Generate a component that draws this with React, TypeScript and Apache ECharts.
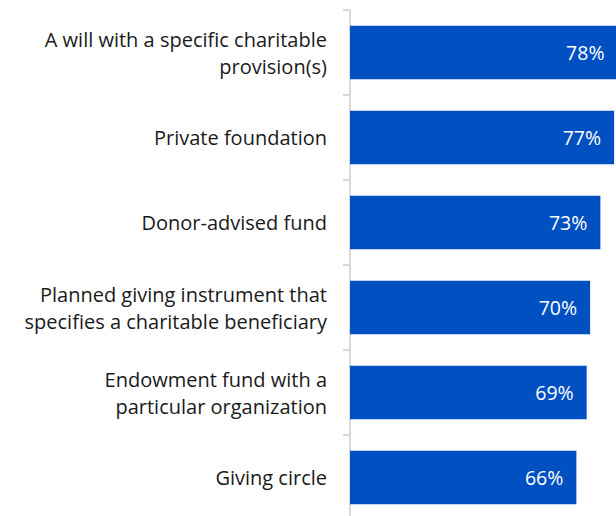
import React, { useEffect, useRef } from "react";
import * as echarts from "echarts";

const categories = [
  "A will with a specific charitable\nprovision(s)",
  "Private foundation",
  "Donor-advised fund",
  "Planned giving instrument that\nspecifies a charitable beneficiary",
  "Endowment fund with a\nparticular organization",
  "Giving circle",
];
const values = [78, 77, 73, 70, 69, 66];

const FONT = "'Open Sans', Lato, sans-serif";

export default function App() {
  const ref = useRef<HTMLDivElement>(null);
  useEffect(() => {
    if (!ref.current) return;
    const chart = echarts.init(ref.current, undefined, { renderer: "svg" });
    chart.setOption({
      animation: false,
      textStyle: { fontFamily: FONT },
      grid: { left: 350, top: 10, width: 343, height: 510, containLabel: false, outerBoundsMode: "none" },
      xAxis: {
        type: "value",
        min: 0,
        max: 100,
        show: false,
      },
      yAxis: {
        type: "category",
        data: categories,
        inverse: true,
        axisLine: { show: true, lineStyle: { color: "#d9d9d9", width: 2 } },
        axisTick: { show: true, length: 7, lineStyle: { color: "#d9d9d9", width: 2 } },
        axisLabel: {
          margin: 23,
          color: "#1a1a1a",
          fontSize: 20,
          lineHeight: 27,
          align: "right",
          fontFamily: FONT,
        },
        splitLine: { show: false },
      },
      series: [
        {
          type: "bar",
          data: values,
          barCategoryGap: "37%",
          clip: false,
          itemStyle: { color: "#0050c2" },
          label: {
            show: true,
            position: "insideRight",
            distance: 13,
            formatter: "{c}%",
            color: "#ffffff",
            fontSize: 19.5,
            fontFamily: FONT,
          },
        },
      ],
    });
    return () => chart.dispose();
  }, []);
  return (
    <div
      ref={ref}
      style={{ position: "fixed", left: 0, top: 0, width: 616, height: 516, background: "#fff" }}
    />
  );
}
